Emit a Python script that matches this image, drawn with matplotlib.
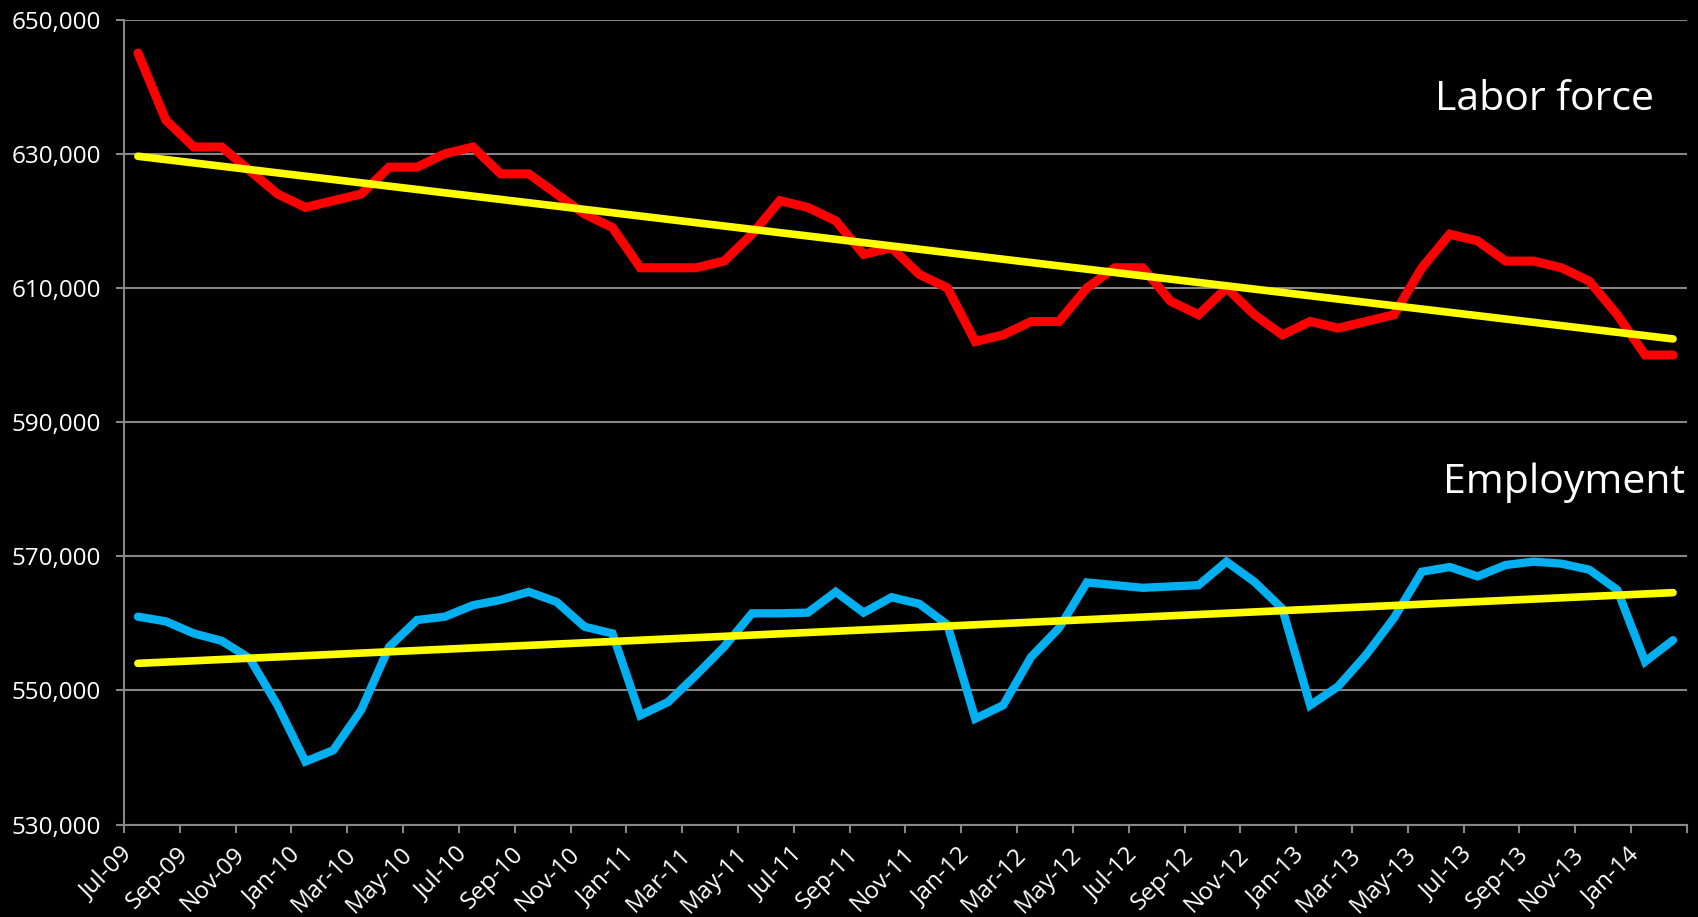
import numpy as np
import matplotlib
matplotlib.use("Agg")
import matplotlib.pyplot as plt
from matplotlib.ticker import FuncFormatter, FixedLocator

# monthly labels Jul-09 .. Feb-14
months = ["Jul-09", "Aug-09", "Sep-09", "Oct-09", "Nov-09", "Dec-09",
          "Jan-10", "Feb-10", "Mar-10", "Apr-10", "May-10", "Jun-10",
          "Jul-10", "Aug-10", "Sep-10", "Oct-10", "Nov-10", "Dec-10",
          "Jan-11", "Feb-11", "Mar-11", "Apr-11", "May-11", "Jun-11",
          "Jul-11", "Aug-11", "Sep-11", "Oct-11", "Nov-11", "Dec-11",
          "Jan-12", "Feb-12", "Mar-12", "Apr-12", "May-12", "Jun-12",
          "Jul-12", "Aug-12", "Sep-12", "Oct-12", "Nov-12", "Dec-12",
          "Jan-13", "Feb-13", "Mar-13", "Apr-13", "May-13", "Jun-13",
          "Jul-13", "Aug-13", "Sep-13", "Oct-13", "Nov-13", "Dec-13",
          "Jan-14", "Feb-14"]

labor_force = [645000, 635000, 631000, 631000, 627500, 624000,
               622000, 623000, 624000, 628000, 628000, 630000,
               631000, 627000, 627000, 624000, 621000, 619000,
               613000, 613000, 613000, 614000, 618000, 623000,
               622000, 620000, 615000, 616000, 612000, 610000,
               602000, 603000, 605000, 605000, 610000, 613000,
               613000, 608000, 606000, 610000, 606000, 603000,
               605000, 604000, 605000, 606000, 613000, 618000,
               617000, 614000, 614000, 613000, 611000, 606000,
               600000, 600000]

employment = [561000, 560300, 558500, 557400, 554800, 547800,
              539400, 541100, 547100, 556500, 560500, 561000,
              562700, 563500, 564700, 563200, 559500, 558500,
              546300, 548300, 552300, 556500, 561500, 561500,
              561600, 564700, 561600, 563900, 562900, 559800,
              545800, 547800, 555000, 559300, 566100, 565700,
              565300, 565500, 565700, 569200, 566200, 562200,
              547800, 550600, 555300, 560800, 567700, 568400,
              567000, 568700, 569200, 568900, 568000, 565000,
              554300, 557500]

GRID = "#868686"

def main():
    x = np.arange(len(months))
    fig = plt.figure(figsize=(16.98, 9.17), dpi=100, facecolor="black")
    ax = fig.add_axes([0.073, 0.1007, 0.9205, 0.878])
    ax.set_facecolor("black")

    ax.plot(x, labor_force, color="#FF0000", lw=6.5, solid_capstyle="round",
            solid_joinstyle="miter", zorder=3)
    ax.plot(x, employment, color="#00B0F0", lw=6, solid_capstyle="round",
            solid_joinstyle="miter", zorder=3)

    # linear trendlines
    for series in (labor_force, employment):
        k, b = np.polyfit(x, series, 1)
        ax.plot(x[[0, -1]], k * x[[0, -1]] + b, color="#FFFF00", lw=5.5,
                solid_capstyle="round", zorder=4)

    ax.set_xlim(-0.5, len(months) - 0.5)
    ax.set_ylim(530000, 650000)
    ax.set_yticks(np.arange(530000, 650001, 20000))
    ax.yaxis.set_major_formatter(FuncFormatter(lambda v, p: f"{v:,.0f}"))
    ax.grid(axis="y", color=GRID, lw=1.5, zorder=1)

    # tick marks at category boundaries, labels at category centers
    ax.xaxis.set_major_locator(FixedLocator(np.arange(-0.5, len(months), 2)))
    ax.xaxis.set_minor_locator(FixedLocator(x[::2]))
    ax.set_xticklabels([], minor=False)
    ax.set_xticklabels(months[::2], minor=True, rotation=45, ha="right")
    ax.tick_params(axis="x", which="major", length=5.5, width=1.5, color=GRID)
    ax.tick_params(axis="x", which="minor", length=0, pad=13, labelsize=17.5,
                   labelcolor="white", labelfontfamily="Open Sans")
    ax.tick_params(axis="y", length=5.5, width=1.5, color=GRID, pad=11,
                   labelsize=17.5, labelcolor="white", labelfontfamily="Open Sans")

    for side in ("top", "right"):
        ax.spines[side].set_visible(False)
    for side in ("left", "bottom"):
        ax.spines[side].set_color(GRID)
        ax.spines[side].set_linewidth(1.5)

    fig.text(1654 / 1698, 1 - 110 / 917, "Labor force", color="white",
             fontsize=29.5, family="Open Sans", ha="right", va="baseline")
    fig.text(1685 / 1698, 1 - 493 / 917, "Employment", color="white",
             fontsize=29.5, family="Open Sans", ha="right", va="baseline")

    fig.savefig("out.png", dpi=100, facecolor="black")

if __name__ == "__main__":
    main()
